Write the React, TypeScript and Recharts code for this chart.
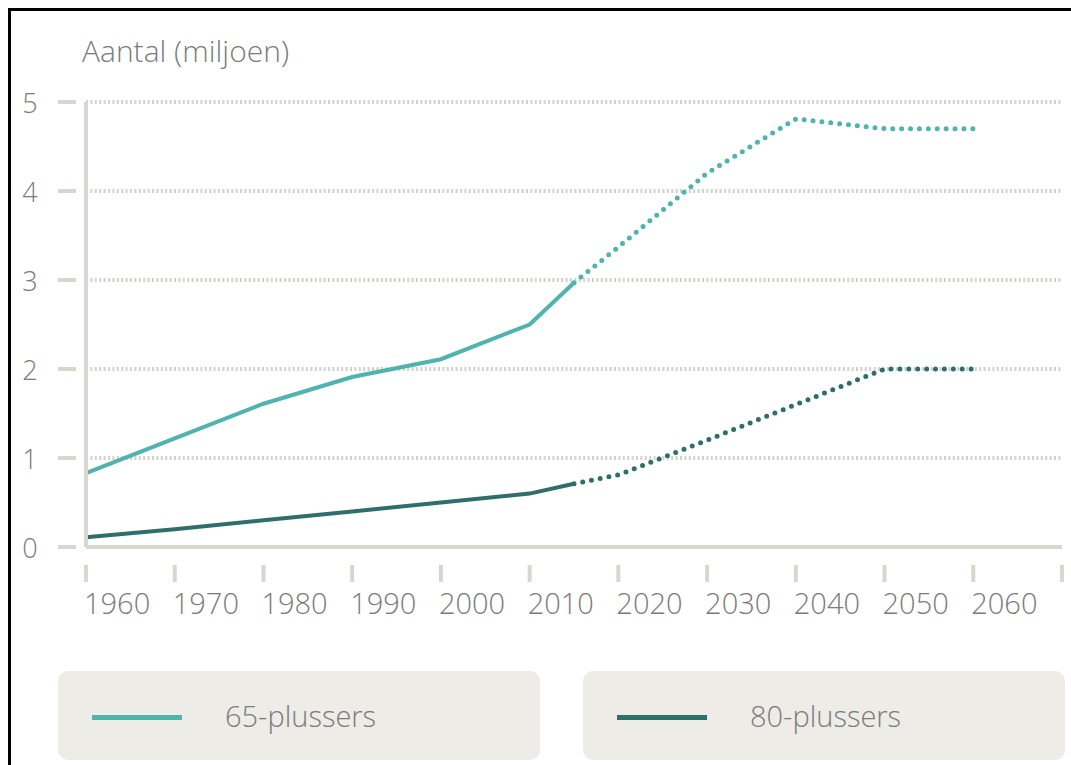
import { LineChart, Line, XAxis, YAxis, CartesianGrid } from "recharts"

const years = [1960, 1970, 1980, 1990, 2000, 2010, 2015, 2020, 2030, 2040, 2050, 2060]
const plus65Actual = [0.83, 1.22, 1.61, 1.91, 2.11, 2.5, 2.97, null, null, null, null, null]
const plus65Forecast = [null, null, null, null, null, null, 2.97, 3.37, 4.2, 4.81, 4.7, 4.7]
const plus80Actual = [0.11, 0.2, 0.3, 0.4, 0.5, 0.6, 0.71, null, null, null, null, null]
const plus80Forecast = [null, null, null, null, null, null, 0.71, 0.81, 1.2, 1.6, 2.0, 2.0]

const xTicks = [1960, 1970, 1980, 1990, 2000, 2010, 2020, 2030, 2040, 2050, 2060, 2070]
const yTicks = [0, 1, 2, 3, 4, 5]

const series = [
  { name: "65-plussers", color: "#4fb3ae" },
  { name: "80-plussers", color: "#2e6f6b" }
]

const data = years.map((year, i) => ({
  year,
  p65: plus65Actual[i],
  p65f: plus65Forecast[i],
  p80: plus80Actual[i],
  p80f: plus80Forecast[i]
}))

const FONT = "'Open Sans', 'DejaVu Sans', sans-serif"
const TEXT = "#7b7b7b"
const AXIS = "#d7d6cf"

const XTick = (props: any) => {
  const { x, payload } = props
  return (
    <g>
      <line x1={x} x2={x} y1={565} y2={582} stroke={AXIS} strokeWidth={4} />
      {payload.value < 2070 && (
        <text x={x - 2} y={614} textAnchor="start" fill={TEXT} fontSize={29} fontFamily={FONT} fontWeight={300}>
          {payload.value}
        </text>
      )}
    </g>
  )
}

const YTick = (props: any) => {
  const { y, payload } = props
  return (
    <g>
      <line x1={58} x2={76} y1={y} y2={y} stroke={AXIS} strokeWidth={4} />
      <text x={30} y={y + 11} textAnchor="middle" fill={TEXT} fontSize={27} fontFamily={FONT} fontWeight={300}>
        {payload.value}
      </text>
    </g>
  )
}

export default function App() {
  return (
    <div style={{ position: "absolute", left: 0, top: 0, width: 1071, height: 765, background: "#fff", overflow: "hidden", fontFamily: FONT }}>
      {/* kader */}
      <div style={{ position: "absolute", left: 8, top: 8, right: -10, bottom: -10, borderTop: "3px solid #000", borderLeft: "3px solid #000" }} />

      <div style={{ position: "absolute", left: 82, top: 31, fontSize: 30, color: TEXT, fontWeight: 300, lineHeight: "40px", whiteSpace: "nowrap" }}>
        Aantal (miljoen)
      </div>

      <div style={{ position: "absolute", left: 0, top: 0 }}>
        <LineChart width={1071} height={640} data={data} margin={{ top: 102, right: 9, bottom: 33, left: 16 }}>
          <CartesianGrid horizontal vertical={false} stroke="#d3d1ca" strokeWidth={4} strokeDasharray="2 2.4" />
          <XAxis
            dataKey="year"
            type="number"
            domain={[1960, 2070]}
            ticks={xTicks}
            interval={0}
            height={60}
            axisLine={{ stroke: AXIS, strokeWidth: 4 }}
            tickLine={false}
            tick={<XTick />}
          />
          <YAxis
            type="number"
            domain={[0, 5]}
            ticks={yTicks}
            width={70}
            axisLine={{ stroke: AXIS, strokeWidth: 4 }}
            tickLine={false}
            tick={<YTick />}
          />
          <Line dataKey="p65" stroke={series[0].color} strokeWidth={4} dot={false} isAnimationActive={false} connectNulls={false} />
          <Line dataKey="p65f" stroke={series[0].color} strokeWidth={5} strokeDasharray="0 8.9" strokeLinecap="round" dot={false} isAnimationActive={false} />
          <Line dataKey="p80" stroke={series[1].color} strokeWidth={4} dot={false} isAnimationActive={false} connectNulls={false} />
          <Line dataKey="p80f" stroke={series[1].color} strokeWidth={5} strokeDasharray="0 8.9" strokeLinecap="round" dot={false} isAnimationActive={false} />
        </LineChart>
      </div>

      {/* legenda */}
      {series.map((s, i) => (
        <div
          key={s.name}
          style={{
            position: "absolute",
            left: 58 + i * 525,
            top: 671,
            width: 482,
            height: 89,
            borderRadius: 10,
            background: "#edece7"
          }}
        >
          <div style={{ position: "absolute", left: 34, top: 44, width: 90, height: 5, background: s.color }} />
          <div style={{ position: "absolute", left: 167, top: 25, fontSize: 29, lineHeight: "40px", color: TEXT, fontWeight: 300, whiteSpace: "nowrap" }}>
            {s.name}
          </div>
        </div>
      ))}
    </div>
  )
}
